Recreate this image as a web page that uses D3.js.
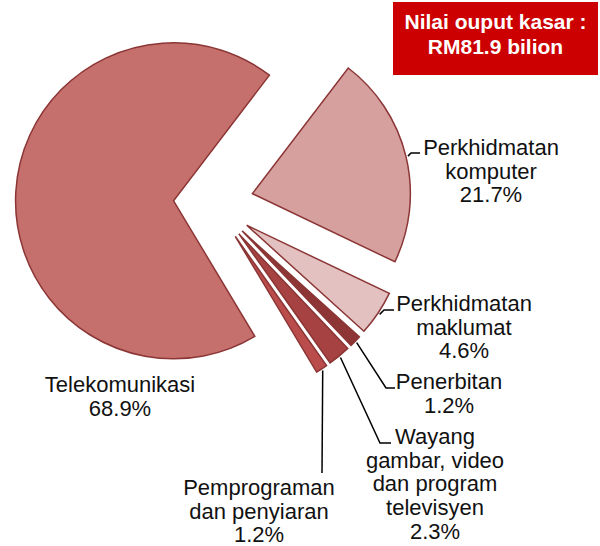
<!DOCTYPE html>
<html>
<head>
<meta charset="utf-8">
<script src="https://cdn.jsdelivr.net/npm/d3@7"></script>
<style>
  body { margin: 0; background: #fff; }
  text { font-family: "Liberation Sans", Arial, sans-serif; }
</style>
</head>
<body>
<div class="main-graph"></div>
<script>
// data
var sectors = ["Perkhidmatan komputer", "Perkhidmatan maklumat", "Penerbitan",
               "Wayang gambar, video dan program televisyen", "Pemprograman dan penyiaran", "Telekomunikasi"];
var shares = [21.7, 4.6, 1.2, 2.3, 1.2, 68.9];
var labelLines = [
  ["Perkhidmatan", "komputer"],
  ["Perkhidmatan", "maklumat"],
  ["Penerbitan"],
  ["Wayang", "gambar, video", "dan program", "televisyen"],
  ["Pemprograman", "dan penyiaran"],
  ["Telekomunikasi"]
];
var totalLines = ["Nilai ouput kasar :", "RM81.9 bilion"];

var colors = ["#D6A09F", "#E3C1C1", "#8E3636", "#A64242", "#BA4D4B", "#C6706E"];

var width = 600, height = 546;
var cx = 213.5, cy = 203, radius = 158, explode = 40;

// label anchors: [text x, first baseline, leader end x, leader end y, elbow x, elbow y]
var labelPos = [
  {tx: 491, ty: 155, lx: 420, ly: 153, ex: 411, ey: 153},
  {tx: 464, ty: 311, lx: 394, ly: 310, ex: 384, ey: 310},
  {tx: 449, ty: 389, lx: 395, ly: 388, ex: 386, ey: 388},
  {tx: 435, ty: 444, lx: 391, ly: 443, ex: 380, ey: 443},
  {tx: 259, ty: 495, lx: 322, ly: 473, ex: null, ey: null},
  {tx: 120, ty: 392, lx: null}
];
var lineH = 23.7;

var svg = d3.select(".main-graph")
            .append("svg")
            .attr("width", width)
            .attr("height", height);

var pie = d3.pie()
            .sort(null)
            .value(function(d){ return d; })
            .startAngle(37.35 * Math.PI / 180)
            .endAngle(37.35 * Math.PI / 180 + 2 * Math.PI);

var arc = d3.arc().innerRadius(0).outerRadius(radius);

var arcs = pie(shares);

function offset(d, r) {
  var a = (d.startAngle + d.endAngle) / 2;
  return [Math.sin(a) * r, -Math.cos(a) * r];
}

//slices
svg.selectAll(".slice")
   .data(arcs)
   .enter()
   .append("path")
   .attr("class", "slice")
   .attr("transform", function(d){
      var o = offset(d, explode);
      return "translate(" + (cx + o[0]) + "," + (cy + o[1]) + ")";
   })
   .attr("d", arc)
   .attr("fill", function(d, i){ return colors[i]; })
   .attr("stroke", "#8B3535")
   .attr("stroke-width", 1.5)
   .attr("stroke-linejoin", "miter");

//leader lines
arcs.forEach(function(d, i){
  var p = labelPos[i];
  if (p.lx == null) return;
  var o = offset(d, explode);
  var s = offset(d, radius + 2);
  var pts = [[cx + o[0] + s[0], cy + o[1] + s[1]]];
  if (p.ex != null) pts.push([p.ex, p.ey]);
  pts.push([p.lx, p.ly]);
  svg.append("path")
     .attr("d", d3.line()(pts))
     .attr("fill", "none")
     .attr("stroke", "#000")
     .attr("stroke-width", 1.5);
});

//labels
arcs.forEach(function(d, i){
  var p = labelPos[i];
  var lines = labelLines[i].concat([d3.format(".1f")(shares[i]) + "%"]);
  var t = svg.append("text")
             .attr("text-anchor", "middle")
             .style("font-size", "22px")
             .attr("fill", "#111");
  lines.forEach(function(l, j){
    t.append("tspan")
     .attr("x", p.tx)
     .attr("y", p.ty + j * lineH)
     .text(l);
  });
});

//total box
svg.append("rect")
   .attr("x", 393)
   .attr("y", 2)
   .attr("width", 205)
   .attr("height", 73)
   .attr("fill", "#CC0000");

svg.append("text")
   .attr("text-anchor", "middle")
   .style("font-size", "21px")
   .style("font-weight", "bold")
   .attr("fill", "#fff")
   .selectAll("tspan")
   .data(totalLines)
   .enter()
   .append("tspan")
   .attr("x", 495.5)
   .attr("y", function(d, i){ return 29 + i * 25; })
   .text(function(d){ return d; });
</script>
</body>
</html>
